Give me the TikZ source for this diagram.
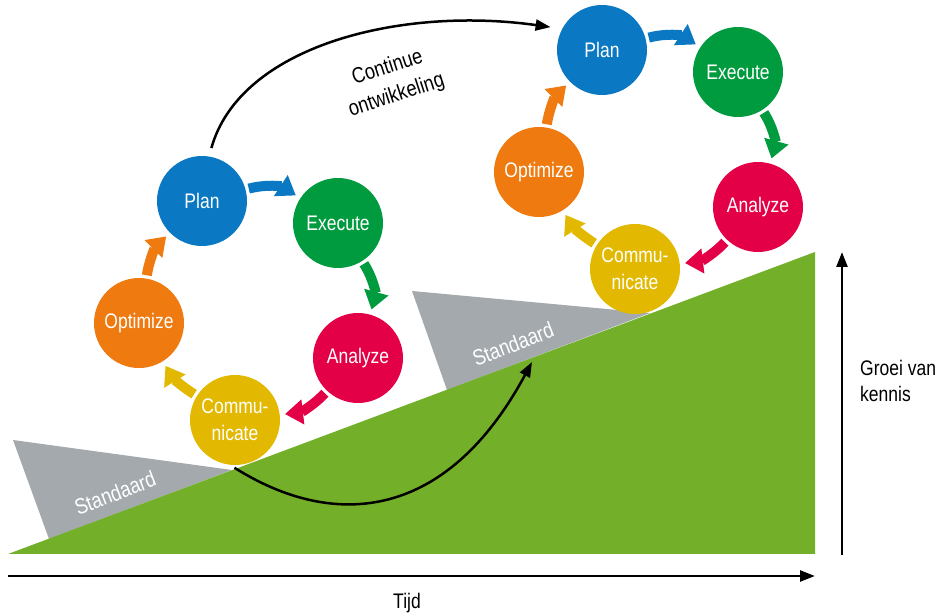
\documentclass[tikz,border=0pt]{standalone}
\usepackage{fontspec}
\setmainfont{Liberation Sans}[FakeStretch=0.83]
\usetikzlibrary{arrows.meta}
\definecolor{cplan}{HTML}{0A78C2}
\definecolor{cexec}{HTML}{009B3E}
\definecolor{cana}{HTML}{E30046}
\definecolor{ccom}{HTML}{E2B900}
\definecolor{copt}{HTML}{EE7A10}
\definecolor{ground}{HTML}{73AF28}
\definecolor{stdgray}{HTML}{A4A9AE}
\begin{document}
\begin{tikzpicture}[x=0.02cm,y=0.02cm,
  stage/.style={circle, fill=#1, minimum size=1.8cm, inner sep=0pt,
    text=white, align=center, font=\fontsize{12}{15.3}\selectfont},
  cyclearrow/.style={draw=#1, line width=0.2cm,
    -{Triangle[length=0.36cm,width=0.48cm]},
    shorten <=0.06cm, shorten >=0.1cm},
  blackarrow/.style={draw=black, line width=0.05cm,
    -{Triangle[length=0.3cm,width=0.22cm]}},
  stdlabel/.style={text=white, font=\fontsize{12.6}{15}\selectfont, rotate=21},
  plainlabel/.style={text=black, font=\fontsize{12}{15.3}\selectfont}
]
\useasboundingbox (0,0) rectangle (948,616);

% Standard plateaus
\fill[stdgray] (13,176) -- (232,146) -- (49,77) -- cycle;
\fill[stdgray] (412,325) -- (650,303) -- (447,226) -- cycle;

% Rising ground
\fill[ground] (8,62) -- (815,364) -- (815,62) -- cycle;

\node[stdlabel] (std1) at (115,123) {Standaard};
\node[stdlabel] (std2) at (513,272) {Standaard};

% Axes
\coordinate (xa0) at (8,40);
\coordinate (xa1) at (815,40);
\coordinate (ya0) at (842,61);
\coordinate (ya1) at (842,364);
\draw[blackarrow] (xa0) -- (xa1);
\draw[blackarrow] (ya0) -- (ya1);
\node[plainlabel] (tijd) at (407,13) {Tijd};
\node[plainlabel, anchor=west, align=left] (groei) at (854,235) {Groei van\\kennis};

% First improvement cycle
\node[stage=cplan] (p1) at (202,415) {Plan};
\node[stage=cexec] (e1) at (338,393) {Execute};
\node[stage=cana]  (a1) at (358,258) {Analyze};
\node[stage=ccom]  (c1) at (235,196) {Commu-\\nicate};
\node[stage=copt]  (o1) at (139,293) {Optimize};

% Second improvement cycle
\node[stage=cplan] (p2) at (602,566) {Plan};
\node[stage=cexec] (e2) at (738,544) {Execute};
\node[stage=cana]  (a2) at (758,409) {Analyze};
\node[stage=ccom]  (c2) at (635,347) {Commu-\\nicate};
\node[stage=copt]  (o2) at (539,444) {Optimize};

\foreach \i in {1,2}{
  \draw[cyclearrow=cplan] (p\i) to[bend left=24] (e\i);
  \draw[cyclearrow=cexec] (e\i) to[bend left=24] (a\i);
  \draw[cyclearrow=cana]  (a\i) to[bend left=20] (c\i);
  \draw[cyclearrow=ccom]  (c\i) to[bend left=13] (o\i);
  \draw[cyclearrow=copt]  (o\i) to[bend left=18] (p\i);
}

% Continuous development
\draw[blackarrow, shorten <=0.17cm, shorten >=0.23cm]
  (p1.81) .. controls (240,570) and (400,610) .. (p2.152);
\node[rotate=18, align=center, text=black, font=\fontsize{12.5}{16.5}\selectfont]
  (cont) at (392,534) {Continue\\ontwikkeling};

% Lifting the standard
\coordinate (lift) at (532,254);
\draw[blackarrow, shorten <=0.1cm]
  (c1.264) .. controls (335,85) and (447,96) .. (lift);
\end{tikzpicture}
\end{document}
